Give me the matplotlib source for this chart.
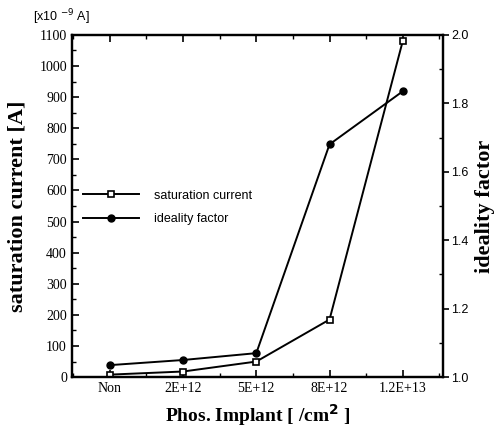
import numpy as np
import matplotlib
matplotlib.use("Agg")
import matplotlib.pyplot as plt
from matplotlib.ticker import MultipleLocator

# data
categories = ["Non", "2E+12", "5E+12", "8E+12", "1.2E+13"]
sat_current = [8, 18, 50, 185, 1080]          # x10^-9 A
ideality = [1.035, 1.05, 1.07, 1.68, 1.835]

serif = "Liberation Serif"
sans = "Liberation Sans"

fig = plt.figure(figsize=(4.95, 4.30), dpi=100)
ax = fig.add_axes([0.145, 0.123, 0.75, 0.796])
ax2 = ax.twinx()

x = np.arange(len(categories))
l1, = ax.plot(x, sat_current, color="black", lw=1.4, marker="s", ms=4.5,
              mfc="white", mec="black", mew=1.2, label="saturation current")
l2, = ax2.plot(x, ideality, color="black", lw=1.4, marker="o", ms=5,
               label="ideality factor")

ax.set_xlim(-0.52, 4.55)
ax.set_ylim(0, 1100)
ax2.set_ylim(1.0, 2.0)

ax.set_xticks(x)
ax.set_xticklabels(categories, fontfamily=serif, fontsize=10)
ax.xaxis.set_minor_locator(MultipleLocator(0.5))
ax.yaxis.set_major_locator(MultipleLocator(100))
ax.yaxis.set_minor_locator(MultipleLocator(50))
for lab in ax.get_yticklabels():
    lab.set_fontfamily(serif)
    lab.set_fontsize(10)
ax.tick_params(axis="both", which="both", direction="in", top=True, right=False)
ax.tick_params(which="major", length=5, width=1.2)
ax.tick_params(which="minor", length=3, width=1)

ax2.yaxis.set_major_locator(MultipleLocator(0.2))
ax2.yaxis.set_minor_locator(MultipleLocator(0.1))
ax2.yaxis.set_major_formatter(matplotlib.ticker.FormatStrFormatter("%.1f"))
ax2.tick_params(which="major", direction="out", length=4, width=1.2,
                labelsize=9, pad=2)
ax2.tick_params(which="minor", direction="in", length=3, width=1)
for lab in ax2.get_yticklabels():
    lab.set_fontfamily(sans)

for sp in list(ax.spines.values()) + list(ax2.spines.values()):
    sp.set_linewidth(1.6)

ax.set_ylabel("saturation current [A]", fontfamily=serif, fontweight="bold",
              fontsize=16)
ax.yaxis.set_label_coords(-0.12, 0.5)
ax2.set_ylabel("ideality factor", fontfamily=serif, fontweight="bold",
               fontsize=16, rotation=90)
ax2.yaxis.set_label_coords(1.085, 0.5)
ax.set_xlabel("Phos. Implant [ /cm$^{\\mathbf{2}}$ ]", fontfamily=serif,
              fontweight="bold", fontsize=14, labelpad=5)

fig.text(0.067, 0.95, "[x10 $^{-9}$ A]", fontfamily=sans, fontsize=9)

ax.legend(handles=[l1, l2], loc="upper left", bbox_to_anchor=(0.0, 0.58),
          frameon=False, prop={"family": sans, "size": 9}, handlelength=4.5,
          handletextpad=1.2, labelspacing=0.9)

fig.savefig("out.png", dpi=100)
